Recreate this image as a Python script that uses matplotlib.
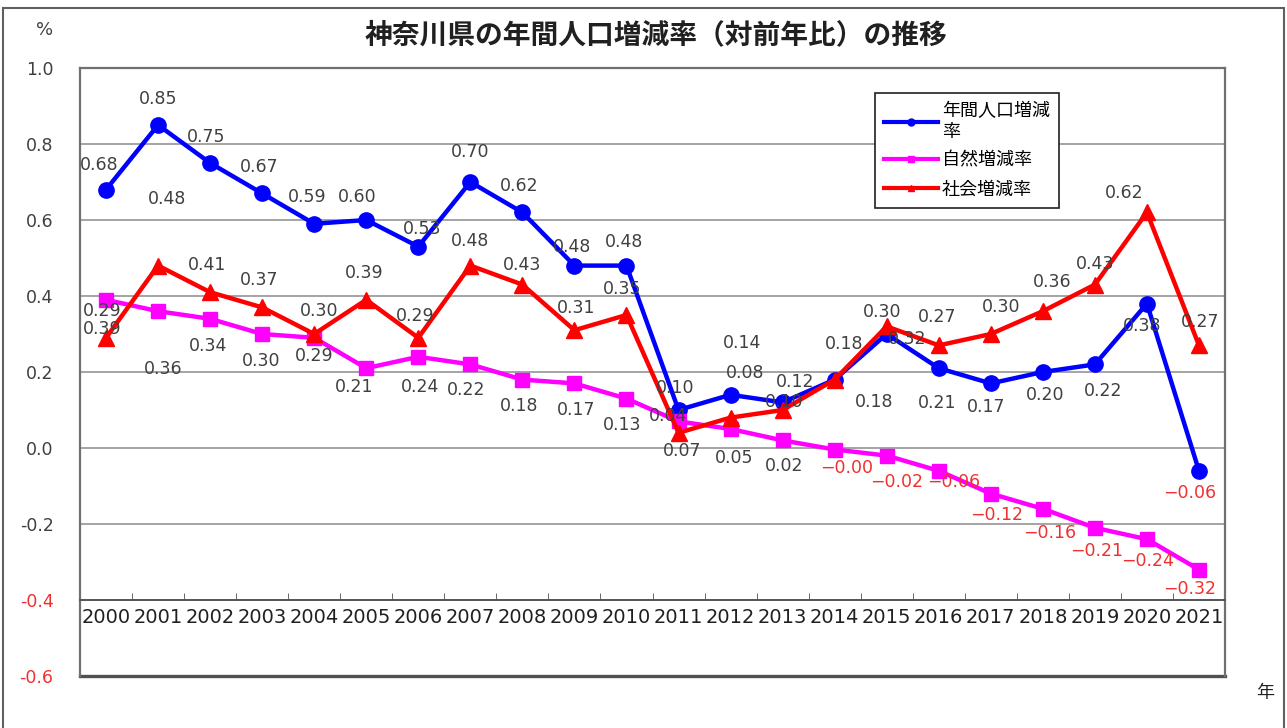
import matplotlib
matplotlib.use('Agg')
import matplotlib.pyplot as plt
from matplotlib.lines import Line2D
from matplotlib.patches import Rectangle

plt.rcParams['font.family'] = ['DejaVu Sans', 'Noto Sans CJK JP']

# data (%)
years = ['2000', '2001', '2002', '2003', '2004', '2005', '2006', '2007', '2008', '2009', '2010',
         '2011', '2012', '2013', '2014', '2015', '2016', '2017', '2018', '2019', '2020', '2021']
total = [0.68, 0.85, 0.75, 0.67, 0.59, 0.60, 0.53, 0.70, 0.62, 0.48, 0.48,
         0.10, 0.14, 0.12, 0.18, 0.30, 0.21, 0.17, 0.20, 0.22, 0.38, -0.06]
natural = [0.39, 0.36, 0.34, 0.30, 0.29, 0.21, 0.24, 0.22, 0.18, 0.17, 0.13,
           0.07, 0.05, 0.02, -0.004, -0.02, -0.06, -0.12, -0.16, -0.21, -0.24, -0.32]
social = [0.29, 0.48, 0.41, 0.37, 0.30, 0.39, 0.29, 0.48, 0.43, 0.31, 0.35,
          0.04, 0.08, 0.10, 0.18, 0.32, 0.27, 0.30, 0.36, 0.43, 0.62, 0.27]
series_names = ['年間人口増減\n率', '自然増減率', '社会増減率']
yticks = [1.0, 0.8, 0.6, 0.4, 0.2, 0.0, -0.2, -0.4, -0.6]

# label offsets in pixels (dx, dy), hand placed like the original
total_off = [(-7, 25), (0, 26), (-4, 26), (-3, 26), (-7, 27), (-9, 23), (4, 18), (0, 30), (-3, 26),
             (-2, 19), (-2, 24), (-3, 22), (11, 52), (13, 20), (9, 36), (-5, 22), (-2, -35),
             (-5, -24), (2, -23), (8, -27), (-5, -22), (-9, -22)]
social_off = [(-4, 27), (9, 67), (-3, 27), (-3, 27), (5, 23), (-2, 27), (-3, 22), (0, 25), (0, 20),
              (2, 22), (-4, 26), (-10, 17), (15, 45), (2, 8), (39, -22), (20, -13), (-2, 28),
              (10, 27), (9, 29), (0, 21), (-23, 19), (1, 23)]
natural_off = [(-4, -29), (5, -58), (-2, -27), (-1, -27), (0, -18), (-12, -19), (2, -30), (-4, -26),
               (-3, -26), (2, -27), (-4, -26), (4, -30), (4, -29), (2, -26), (12, -18), (10, -26),
               (15, -11), (6, -21), (7, -24), (2, -23), (1, -22), (-9, -19)]

BLUE = '#0000FF'
PINK = '#FF00FF'
RED = '#FF0000'
LABEL_GRAY = '#404040'
NEG_RED = '#F03030'

fig = plt.figure(figsize=(12.87, 7.28), dpi=100)
ax = fig.add_axes([80 / 1287, 52 / 728, 1145 / 1287, 608 / 728])
x = list(range(len(years)))

ax.plot(x, total, color=BLUE, lw=3.2, marker='o', ms=11, zorder=3)
ax.plot(x, natural, color=PINK, lw=3.2, marker='s', ms=10, zorder=4)
ax.plot(x, social, color=RED, lw=3.2, marker='^', ms=11, zorder=5)


def put_labels(vals, offs):
    for xi, v, (dx, dy) in zip(x, vals, offs):
        txt = f'{v:.2f}'.replace('-', '\u2212')
        col = NEG_RED if v < 0 else LABEL_GRAY
        ax.annotate(txt, (xi, v), xytext=(dx, dy), textcoords='offset pixels',
                    ha='center', va='center', fontsize=12.5, color=col, zorder=6)


put_labels(total, total_off)
put_labels(natural, natural_off)
put_labels(social, social_off)

ax.set_xlim(-0.5, len(years) - 0.5)
ax.set_ylim(-0.6, 1.0)
ax.set_yticks(yticks)
ax.set_yticklabels([f'{t:.1f}' for t in yticks], fontsize=12.5, color='#404040')
for t in ax.get_yticklabels():
    if float(t.get_text()) < -0.3:
        t.set_color(NEG_RED)
ax.tick_params(axis='y', length=0, pad=19)
ax.grid(axis='y', color='#8c8c8c', lw=1.1)
ax.set_axisbelow(True)

# category axis crosses at -0.4
ax.spines['bottom'].set_position(('data', -0.4))
ax.spines['bottom'].set_color('#505050')
ax.spines['bottom'].set_linewidth(1.3)
ax.set_xticks(x)
ax.set_xticklabels(years, fontsize=14, color='#202020')
ax.tick_params(axis='x', which='major', length=0, pad=6)
ax.set_xticks([i - 0.5 for i in x[1:]], minor=True)
ax.tick_params(axis='x', which='minor', direction='in', length=5, color='#505050')
ax.axhline(-0.6, color='#505050', lw=2.4, clip_on=False, zorder=2)
for s in ['left', 'right', 'top']:
    ax.spines[s].set_color('#707070')
    ax.spines[s].set_linewidth(1.6)

handles = [Line2D([], [], color=BLUE, lw=3, marker='o', ms=5),
           Line2D([], [], color=PINK, lw=3, marker='s', ms=5),
           Line2D([], [], color=RED, lw=3, marker='^', ms=5)]
leg = ax.legend(handles, series_names, loc='upper left',
                bbox_to_anchor=(875 / 1287, 1 - 93 / 728), bbox_transform=fig.transFigure,
                fontsize=13, frameon=True, fancybox=False, framealpha=1,
                handlelength=3.0, handletextpad=0.2, labelspacing=0.6,
                borderpad=0.5, borderaxespad=0)
leg.get_frame().set_edgecolor('#202020')
leg.get_frame().set_linewidth(1.2)
leg.set_zorder(7)

fig.text(656 / 1287, 1 - 35 / 728, '神奈川県の年間人口増減率（対前年比）の推移',
         ha='center', va='center', fontsize=20, fontweight='bold', color='#202020')
fig.text(45 / 1287, 1 - 30 / 728, '%', ha='center', va='center', fontsize=13, color='#404040')
fig.text(1265 / 1287, 1 - 693 / 728, '年', ha='center', va='center', fontsize=13, color='#202020')

fig.patches.append(Rectangle((3 / 1287, -0.01), 1281 / 1287, 1.01 - 8 / 728,
                             transform=fig.transFigure, fill=False,
                             edgecolor='#606060', lw=1.5))

fig.savefig('out.png', dpi=100)
